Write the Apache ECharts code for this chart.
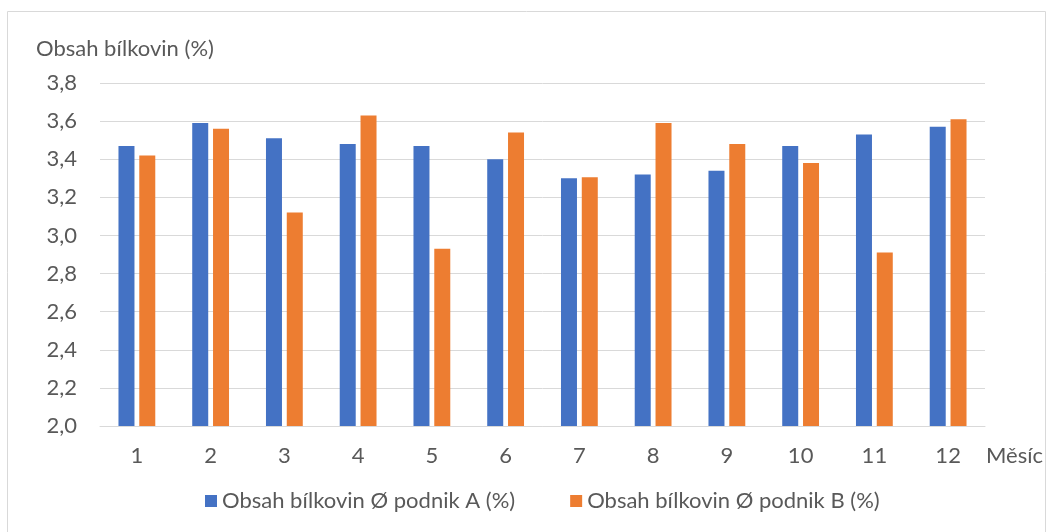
<!DOCTYPE html>
<html>
  <head>
    <meta charset="utf-8">
    <title>Obsah bílkovin</title>
    <script src="https://cdn.jsdelivr.net/npm/echarts@6/dist/echarts.min.js"></script>
    <style>
      html, body { margin: 0; padding: 0; background: #fff; }
      #chart { width: 1052px; height: 532px; }
    </style>
  </head>
  <body>
    <div id="chart"></div>
    <script>
      // měsíce
      const months = ['1', '2', '3', '4', '5', '6', '7', '8', '9', '10', '11', '12'];
      // průměrný obsah bílkovin (%)
      const podnikA = [3.47, 3.59, 3.51, 3.48, 3.47, 3.40, 3.30, 3.32, 3.34, 3.47, 3.53, 3.57];
      const podnikB = [3.42, 3.56, 3.12, 3.63, 2.93, 3.54, 3.305, 3.59, 3.48, 3.38, 2.91, 3.61];
      const seriesNames = ['Obsah bílkovin Ø podnik A (%)', 'Obsah bílkovin Ø podnik B (%)'];

      const font = 'Lato, "Open Sans", sans-serif';
      const fs = 22;
      const textColor = '#595959';

      const chart = echarts.init(document.getElementById('chart'));
      chart.setOption({
        animation: false,
        textStyle: { fontFamily: font },
        title: {
          text: 'Obsah bílkovin (%)',
          left: 31, top: 33,
          textStyle: { fontFamily: font, fontSize: fs, fontWeight: 'normal', color: textColor }
        },
        graphic: [{
          type: 'rect',
          shape: { x: 7.5, y: 11.5, width: 1038, height: 530 },
          style: { fill: 'none', stroke: '#d9d9d9', lineWidth: 1 },
          silent: true
        }],
        legend: {
          top: 485,
          left: 200,
          itemWidth: 12, itemHeight: 12,
          itemGap: 55,
          icon: 'rect',
          textStyle: { fontFamily: font, fontSize: fs, color: textColor },
          data: seriesNames
        },
        grid: { left: 100, right: 67, top: 83, bottom: 106, containLabel: false },
        xAxis: {
          type: 'category',
          data: months,
          name: 'Měsíc',
          nameLocation: 'end',
          nameGap: 1,
          nameTextStyle: { fontFamily: font, fontSize: fs, color: textColor, verticalAlign: 'top', padding: [19, 0, 0, 0] },
          axisLine: { lineStyle: { color: '#d9d9d9', width: 1 } },
          axisTick: { show: false },
          axisLabel: { fontFamily: font, fontSize: fs, color: textColor, margin: 19 }
        },
        yAxis: {
          type: 'value',
          min: 2.0, max: 3.8, interval: 0.2,
          axisLine: { show: false },
          axisTick: { show: false },
          splitLine: { lineStyle: { color: '#d9d9d9', width: 1 } },
          axisLabel: {
            fontFamily: font, fontSize: fs, color: textColor, margin: 23,
            formatter: v => v.toFixed(1).replace('.', ',')
          }
        },
        series: [
          { name: seriesNames[0], type: 'bar', data: podnikA, barWidth: 16, barGap: '30%', itemStyle: { color: '#4472C4' } },
          { name: seriesNames[1], type: 'bar', data: podnikB, barWidth: 16, barGap: '30%', itemStyle: { color: '#ED7D31' } }
        ]
      });
    </script>
  </body>
</html>
